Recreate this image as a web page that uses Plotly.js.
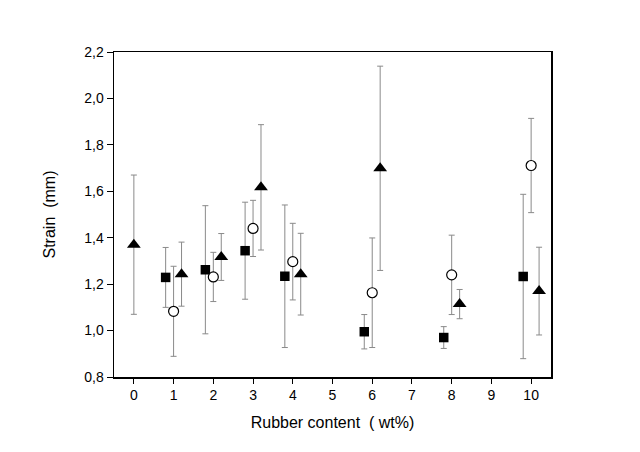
<!DOCTYPE html>
<html>
<head>
<meta charset="utf-8">
<script src="https://cdn.plot.ly/plotly-3.0.1.min.js"></script>
<style>html,body{margin:0;padding:0;background:#fff;}#chart{width:640px;height:452px;}</style>
</head>
<body>
<div id="chart"></div>
<script>
var squareX = [0.8, 1.8, 2.8, 3.8, 5.8, 7.8, 9.8];
var squareY = [1.229, 1.262, 1.344, 1.234, 0.995, 0.970, 1.233];
var squareErr = [0.129, 0.276, 0.209, 0.307, 0.074, 0.047, 0.354];

var circleX = [1, 2, 3, 4, 6, 8, 10];
var circleY = [1.083, 1.231, 1.440, 1.297, 1.163, 1.240, 1.711];
var circleErr = [0.194, 0.106, 0.121, 0.165, 0.236, 0.171, 0.203];

var triangleX = [0, 1.2, 2.2, 3.2, 4.2, 6.2, 8.2, 10.2];
var triangleY = [1.37, 1.243, 1.317, 1.617, 1.243, 1.699, 1.114, 1.170];
var triangleErr = [0.30, 0.138, 0.101, 0.270, 0.176, 0.440, 0.063, 0.189];

var xTicks = [0, 1, 2, 3, 4, 5, 6, 7, 8, 9, 10];

function errBar(arr) {
  return {type: 'data', array: arr, visible: true, color: '#8a8a8a', thickness: 1, width: 3};
}

var traces = [
  {x: squareX, y: squareY, mode: 'markers', type: 'scatter', error_y: errBar(squareErr),
   marker: {symbol: 'square', size: 9.5, color: '#000', line: {width: 0}}},
  {x: circleX, y: circleY, mode: 'markers', type: 'scatter', error_y: errBar(circleErr),
   marker: {symbol: 'circle', size: 10, color: '#fff', line: {width: 1.2, color: '#000'}}},
  {x: triangleX, y: triangleY, mode: 'markers', type: 'scatter', error_y: errBar(triangleErr),
   marker: {symbol: 'triangle-up', size: 12, color: '#000', line: {width: 0}}}
];

var layout = {
  width: 640, height: 452,
  margin: {l: 114, r: 89, t: 52, b: 75},
  paper_bgcolor: '#fff', plot_bgcolor: '#fff',
  showlegend: false,
  separators: ', ',
  font: {family: 'Liberation Sans, Arial, sans-serif', color: '#000', size: 14},
  xaxis: {
    range: [-0.5, 10.5], tickvals: xTicks, ticktext: xTicks.map(String),
    showgrid: false, zeroline: false, showline: true, linecolor: '#000', linewidth: 1.5,
    mirror: true, ticks: 'outside', ticklen: 5, tickwidth: 1, tickcolor: '#000',
    tickfont: {size: 14},
    title: {text: 'Rubber content  ( wt%)', font: {size: 16}, standoff: 14}
  },
  yaxis: {
    range: [0.8, 2.2], dtick: 0.2, tick0: 0.8, tickformat: '.1f',
    showgrid: false, zeroline: false, showline: true, linecolor: '#000', linewidth: 1.5,
    mirror: true, ticks: 'outside', ticklen: 6, tickwidth: 1, tickcolor: '#000',
    tickfont: {size: 14},
    title: {text: 'Strain  (mm)', font: {size: 16}, standoff: 24}
  }
};

Plotly.newPlot('chart', traces, layout, {staticPlot: true, displayModeBar: false});
</script>
</body>
</html>
